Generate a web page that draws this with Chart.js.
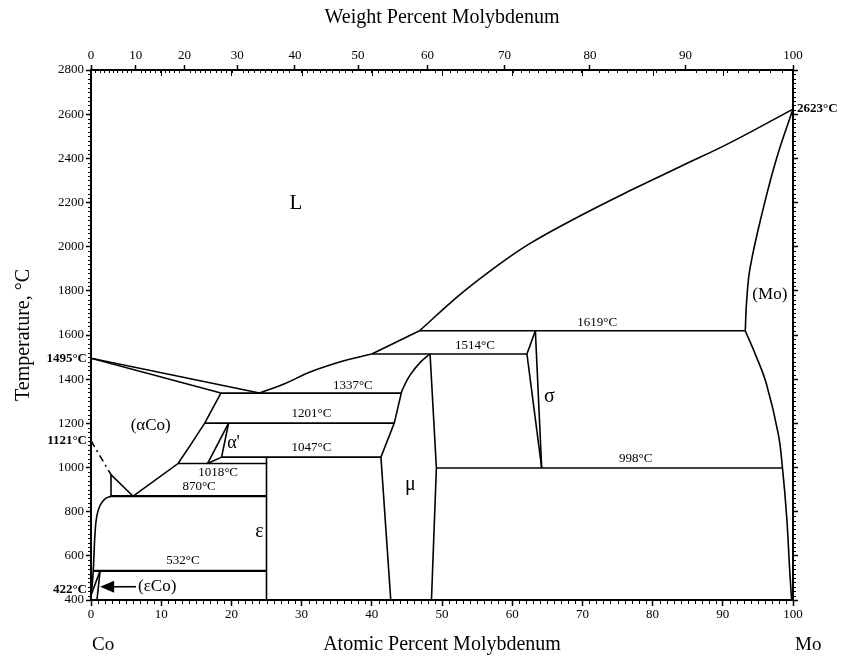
<!DOCTYPE html>
<html>
<head>
<meta charset="utf-8">
<script src="https://cdn.jsdelivr.net/npm/chart.js@4.4.1/dist/chart.umd.min.js"></script>
<style>
  body { margin: 0; background: #fff; }
  canvas { display: block; }
</style>
</head>
<body>
<canvas id="phaseChart" width="846" height="657"></canvas>
<script>
// =========================================
// AXIS SETTINGS
// =========================================

const tempTicks = [400, 600, 800, 1000, 1200, 1400, 1600, 1800, 2000, 2200, 2400, 2600, 2800];
const atomicTicks = [0, 10, 20, 30, 40, 50, 60, 70, 80, 90, 100];
const weightTicks = [0, 10, 20, 30, 40, 50, 60, 70, 80, 90, 100];

// atomic masses, used to place the weight percent axis
const massCo = 58.933;
const massMo = 95.95;

function wtToAt(w) {
  const mo = w / massMo;
  const co = (100 - w) / massCo;
  return 100 * mo / (mo + co);
}


// =========================================
// PHASE BOUNDARIES  [at.% Mo, °C]
// =========================================

const liquidusCo = [[0, 1495], [24, 1337]];
const solidusCo = [[0, 1495], [18.5, 1337]];
const liquidusMid = [[24, 1337], [27.5, 1378], [31.2, 1432], [35.9, 1482], [40, 1514]];
const liquidusMu = [[40, 1514], [46.8, 1619]];
const liquidusMo = [[46.8, 1619], [52.6, 1784], [57.8, 1912], [62.5, 2014], [69.7, 2140],
                    [76.8, 2254], [83.9, 2362], [91, 2470], [100, 2623]];
const solidusMo = [[100, 2623], [97.7, 2404], [95.8, 2178], [93.9, 1906], [93.4, 1756], [93.2, 1619]];
const solvusMo = [[93.2, 1619], [94.8, 1500], [96.2, 1380], [97.9, 1152], [98.5, 998],
                  [99.1, 777], [99.5, 551], [99.8, 400]];

const line1619 = [[46.8, 1619], [93.2, 1619]];
const line1514 = [[40, 1514], [62.1, 1514]];
const line1337 = [[18.5, 1337], [44.2, 1337]];
const line1201 = [[16.2, 1201], [43.2, 1201]];
const line1047 = [[18.6, 1047], [41.3, 1047]];
const line1018 = [[12.4, 1018], [25, 1018]];
const line998 = [[49.2, 998], [98.5, 998]];
const line870 = [[2.85, 870], [25, 870]];
const line532 = [[0.3, 532], [25, 532]];

const sigmaTop = [[62.1, 1514], [63.3, 1619]];
const sigmaLeft = [[62.1, 1514], [64.2, 998]];
const sigmaRight = [[63.3, 1619], [64.2, 998]];

const muLeftTop = [[48.3, 1514], [46.9, 1476], [45.4, 1416], [44.4, 1355], [44.2, 1337]];
const muLeft = [[44.2, 1337], [43.2, 1201], [41.3, 1047], [42.7, 400]];
const muRight = [[48.3, 1514], [49.2, 998], [48.5, 400]];

const epsilonLine = [[25, 1047], [25, 400]];

const alphaPrimeA = [[16.6, 1018], [19.6, 1201]];
const alphaPrimeB = [[19.6, 1201], [18.6, 1047]];
const alphaPrimeC = [[16.6, 1018], [18.6, 1047]];

const alphaCoSolvus = [[18.5, 1337], [16.2, 1201], [14.3, 1108], [12.4, 1018], [6, 870]];
const alphaCoTriangle = [[2.85, 870], [2.85, 968], [6, 870]];
const curieLine = [[0, 1121], [2.85, 968]];
const epsCoCurve = [[2.85, 870], [2.0, 858], [1.28, 828], [0.8, 775], [0.57, 700],
                    [0.43, 610], [0.33, 540], [0.15, 460], [0, 422]];
const epsCoLineA = [[0, 422], [1.3, 532]];
const epsCoLineB = [[0.85, 400], [1.3, 532]];
const arrowLine = [[3.0, 460], [6.4, 460]];

const boundaries = [
  { pts: liquidusCo }, { pts: solidusCo }, { pts: liquidusMid, curve: true },
  { pts: liquidusMu }, { pts: liquidusMo, curve: true }, { pts: solidusMo, curve: true },
  { pts: solvusMo, curve: true },
  { pts: line1619 }, { pts: line1514 }, { pts: line1337 }, { pts: line1201 },
  { pts: line1047 }, { pts: line1018 }, { pts: line998 },
  { pts: line870, thick: true }, { pts: line532, thick: true },
  { pts: sigmaTop }, { pts: sigmaLeft }, { pts: sigmaRight },
  { pts: muLeftTop, curve: true }, { pts: muLeft }, { pts: muRight },
  { pts: epsilonLine },
  { pts: alphaPrimeA }, { pts: alphaPrimeB }, { pts: alphaPrimeC },
  { pts: alphaCoSolvus }, { pts: alphaCoTriangle },
  { pts: curieLine, dash: [7, 4, 2, 4] },
  { pts: epsCoCurve, curve: true }, { pts: epsCoLineA }, { pts: epsCoLineB },
  { pts: arrowLine }
];


// =========================================
// TEXT IN THE DIAGRAM  [at.% Mo, °C]
// =========================================

const tempLabels = [
  ["1619°C", 72.1, 1656], ["1514°C", 54.7, 1550], ["1337°C", 37.3, 1369],
  ["1201°C", 31.4, 1245], ["1047°C", 31.4, 1092], ["1018°C", 18.1, 976],
  ["870°C", 15.4, 914], ["532°C", 13.1, 577], ["998°C", 77.6, 1042]
];

const phaseLabels = [
  ["L", 29.2, 2195, 21], ["(αCo)", 8.5, 1190, 17], ["α'", 20.3, 1110, 18],
  ["ε", 24.0, 709, 20], ["μ", 45.5, 921, 20], ["σ", 65.3, 1321, 20],
  ["(Mo)", 96.7, 1781, 17]
];

const edgeLabelsLeft = [["1495°C", 1495], ["1121°C", 1121], ["422°C", 445]];
const edgeLabelsRight = [["2623°C", 2623]];

const serif = "'Liberation Serif', 'DejaVu Serif', serif";


// =========================================
// PLUGINS
// =========================================

const minorTicks = {
  id: "minorTicks",
  afterDraw(chart) {
    const c = chart.ctx;
    const { x, x2, y } = chart.scales;
    const area = chart.chartArea;
    c.save();
    c.strokeStyle = "#000";
    c.lineWidth = 1;
    c.beginPath();
    for (let v = 0; v <= 100; v++) {
      if (v % 10 === 0) continue;
      const px = Math.round(x.getPixelForValue(v)) + 0.5;
      c.moveTo(px, area.bottom);
      c.lineTo(px, area.bottom + 4);
    }
    for (let w = 1; w < 100; w++) {
      if (w % 10 === 0) continue;
      const px = Math.round(x2.getPixelForValue(wtToAt(w))) + 0.5;
      c.moveTo(px, area.top);
      c.lineTo(px, area.top + 3);
    }
    for (let v = 10; v < 100; v += 10) {
      const px = Math.round(x2.getPixelForValue(v)) + 0.5;
      c.moveTo(px, area.top);
      c.lineTo(px, area.top + 6);
    }
    for (let t = 400; t <= 2800; t += 20) {
      if (t % 200 === 0) continue;
      const py = Math.round(y.getPixelForValue(t)) + 0.5;
      c.moveTo(area.left, py);
      c.lineTo(area.left - 3, py);
      c.moveTo(area.right, py);
      c.lineTo(area.right + 3, py);
    }
    c.stroke();
    c.restore();
  }
};

const diagramText = {
  id: "diagramText",
  afterDraw(chart) {
    const c = chart.ctx;
    const { x, y } = chart.scales;
    c.save();
    c.fillStyle = "#000";
    c.textBaseline = "middle";

    c.textAlign = "center";
    c.font = "13px " + serif;
    tempLabels.forEach(([t, vx, vy]) => {
      c.fillText(t, x.getPixelForValue(vx), y.getPixelForValue(vy));
    });

    phaseLabels.forEach(([t, vx, vy, size]) => {
      c.font = size + "px " + serif;
      c.fillText(t, x.getPixelForValue(vx), y.getPixelForValue(vy));
    });

    // (εCo) with arrow
    c.textAlign = "left";
    c.font = "17px " + serif;
    c.fillText("(εCo)", x.getPixelForValue(6.7), y.getPixelForValue(462));
    const tipX = x.getPixelForValue(1.3);
    const tipY = y.getPixelForValue(460);
    c.beginPath();
    c.moveTo(tipX, tipY);
    c.lineTo(tipX + 14, tipY - 6);
    c.lineTo(tipX + 14, tipY + 6);
    c.closePath();
    c.fill();

    c.font = "bold 13px " + serif;
    c.textAlign = "right";
    edgeLabelsLeft.forEach(([t, vy]) => {
      c.fillText(t, x.getPixelForValue(0) - 4, y.getPixelForValue(vy));
    });
    c.textAlign = "left";
    edgeLabelsRight.forEach(([t, vy]) => {
      c.fillText(t, x.getPixelForValue(100) + 4, y.getPixelForValue(vy));
    });

    c.font = "19px " + serif;
    c.fillText("Co", x.getPixelForValue(0) + 1, 645);
    c.fillText("Mo", x.getPixelForValue(100) + 2, 645);
    c.restore();
  }
};


// =========================================
// CHART
// =========================================

const tickFont = { family: serif, size: 13 };
const titleFont = { family: serif, size: 20 };

const phaseCtx =
document.getElementById("phaseChart");

new Chart(phaseCtx, {

  type: "scatter",

  data: {
    datasets: boundaries.map(b => ({
      data: b.pts.map(([px, py]) => ({ x: px, y: py })),
      showLine: true,
      borderColor: "#000",
      borderWidth: b.thick ? 2.2 : 1.6,
      borderDash: b.dash || [],
      pointRadius: 0,
      tension: b.curve ? 0.4 : 0,
      fill: false
    }))
  },

  options: {
    responsive: false,
    animation: false,
    layout: { padding: 0 },
    plugins: {
      legend: { display: false },
      tooltip: { enabled: false }
    },
    scales: {
      x: {
        type: "linear",
        position: "bottom",
        min: 0,
        max: 100,
        afterBuildTicks: s => { s.ticks = atomicTicks.map(v => ({ value: v })); },
        ticks: { font: tickFont, color: "#000", padding: 1, autoSkip: false, maxRotation: 0,
                 callback: v => String(v) },
        grid: { drawOnChartArea: false, tickLength: 6, tickWidth: 1.5, tickColor: "#000" },
        border: { color: "#000", width: 2 },
        title: { display: true, text: "Atomic Percent Molybdenum", font: titleFont, color: "#000",
                 padding: { top: 0, bottom: 0 } },
        afterFit: s => { s.height = 57; }
      },
      x2: {
        type: "linear",
        position: "top",
        min: 0,
        max: 100,
        afterBuildTicks: s => { s.ticks = weightTicks.map(w => ({ value: wtToAt(w) })); },
        ticks: {
          font: tickFont, color: "#000", padding: 2, autoSkip: false, maxRotation: 0,
          callback: (v, i) => String(weightTicks[i])
        },
        grid: { drawOnChartArea: false, tickLength: 5, tickWidth: 1.5, tickColor: "#000" },
        border: { color: "#000", width: 2 },
        title: { display: true, text: "Weight Percent Molybdenum", font: titleFont, color: "#000",
                 padding: { top: 6, bottom: 0 } },
        afterFit: s => { s.height = 70; }
      },
      y: {
        type: "linear",
        position: "left",
        min: 400,
        max: 2800,
        afterBuildTicks: s => { s.ticks = tempTicks.map(v => ({ value: v })); },
        ticks: { font: tickFont, color: "#000", padding: 2, callback: v => String(v) },
        grid: { drawOnChartArea: false, tickLength: 5, tickWidth: 1.5, tickColor: "#000" },
        border: { color: "#000", width: 2 },
        title: { display: true, text: "Temperature, °C", font: titleFont, color: "#000",
                 padding: { top: 12, bottom: 0 } },
        afterFit: s => { s.width = 91; }
      },
      y2: {
        type: "linear",
        position: "right",
        min: 400,
        max: 2800,
        afterBuildTicks: s => { s.ticks = tempTicks.map(v => ({ value: v })); },
        ticks: { display: false },
        grid: { drawOnChartArea: false, tickLength: 5, tickWidth: 1.5, tickColor: "#000" },
        border: { color: "#000", width: 2 },
        afterFit: s => { s.width = 53; }
      }
    }
  },

  plugins: [minorTicks, diagramText]
});
</script>
</body>
</html>
